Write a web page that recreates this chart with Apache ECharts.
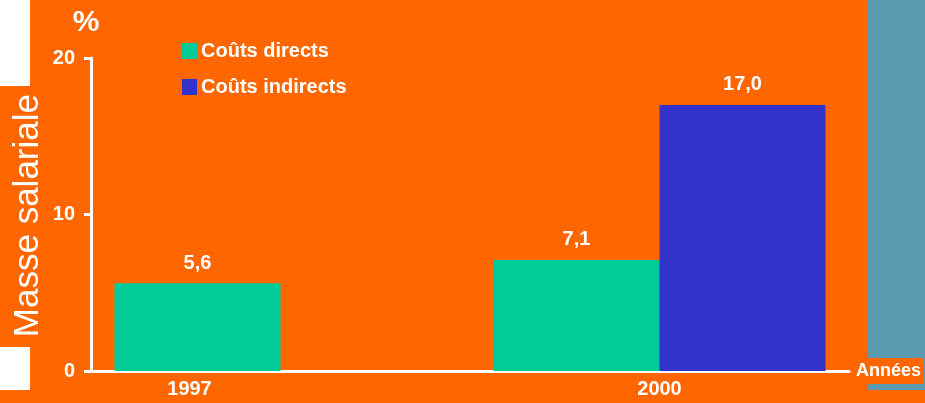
<!DOCTYPE html>
<html>
<head>
<meta charset="utf-8">
<script src="https://cdn.jsdelivr.net/npm/echarts@6/dist/echarts.min.js"></script>
<style>
  html, body { margin: 0; padding: 0; background: #ff6600; }
  #chart { width: 925px; height: 403px; }
</style>
</head>
<body>
<div id="chart"></div>
<script>
const years = ["1997", "2000"];
const direct = [5.6, 7.1];
const indirect = [null, 17.0];
const seriesNames = ["Coûts directs", "Coûts indirects"];

const chart = echarts.init(document.getElementById("chart"));
const font = "Liberation Sans, Arial, sans-serif";
const label = {
  show: true,
  position: "top",
  distance: 10,
  color: "#fff",
  fontWeight: "bold",
  fontSize: 20,
  fontFamily: font,
  formatter: (p) => p.value.toFixed(1).replace(".", ","),
};

const option = {
  backgroundColor: "#ff6600",
  animation: false,
  graphic: [
    { type: "rect", left: 0, top: 0, shape: { width: 30, height: 86 }, style: { fill: "#fff" } },
    { type: "rect", left: 0, top: 347, shape: { width: 30, height: 43 }, style: { fill: "#fff" } },
    { type: "rect", left: 867, top: 0, shape: { width: 58, height: 390 }, style: { fill: "#5b9bb0" } },
    {
      type: "text",
      left: 11,
      top: 94,
      rotation: Math.PI / 2,
      style: {
        text: "Masse salariale",
        fill: "#fff",
        font: "35px " + font,
      },
    },
  ],
  legend: {
    orient: "vertical",
    left: 177,
    top: 36,
    itemWidth: 15,
    itemHeight: 16,
    itemGap: 16,
    icon: "rect",
    data: seriesNames,
    textStyle: { color: "#fff", fontWeight: "bold", fontSize: 20, fontFamily: font, padding: [0, 0, 0, -1] },
  },
  grid: { left: 91, right: 76, top: 58, bottom: 32, outerBoundsMode: "none", containLabel: false },
  xAxis: {
    type: "category",
    data: years,
    name: "Années",
    nameLocation: "end",
    nameGap: 5,
    nameTextStyle: {
      color: "#fff", fontWeight: "bold", fontSize: 18, fontFamily: font,
      backgroundColor: "#ff6600", padding: [4, 2, 4, 2],
    },
    axisLine: { lineStyle: { color: "#fff", width: 3 } },
    axisTick: { show: false },
    axisLabel: {
      color: "#fff",
      fontWeight: "bold",
      fontSize: 20,
      fontFamily: font,
      margin: 8,
      formatter: (v) => (v === "1997" ? "{a|" + v + "}" : v),
      rich: { a: { color: "#fff", fontWeight: "bold", fontSize: 20, fontFamily: font, padding: [0, 182, 0, 0] } },
    },
  },
  yAxis: {
    type: "value",
    min: 0,
    max: 20,
    interval: 10,
    name: "%",
    nameGap: 20,
    nameTextStyle: { color: "#fff", fontWeight: "bold", fontSize: 30, fontFamily: font, padding: [0, 10, 0, 0] },
    axisLine: { show: true, lineStyle: { color: "#fff", width: 3 } },
    axisTick: { show: true, length: 7, lineStyle: { color: "#fff", width: 3 } },
    axisLabel: { color: "#fff", fontWeight: "bold", fontSize: 20, fontFamily: font, margin: 16 },
    splitLine: { show: false },
  },
  series: [
    {
      name: seriesNames[0],
      type: "bar",
      data: direct,
      barWidth: 166,
      barGap: "0%",
      itemStyle: { color: "#00cc99" },
      label: label,
    },
    {
      name: seriesNames[1],
      type: "bar",
      data: indirect,
      barWidth: 166,
      itemStyle: { color: "#3333cc" },
      label: label,
    },
  ],
};
chart.setOption(option);
</script>
</body>
</html>
